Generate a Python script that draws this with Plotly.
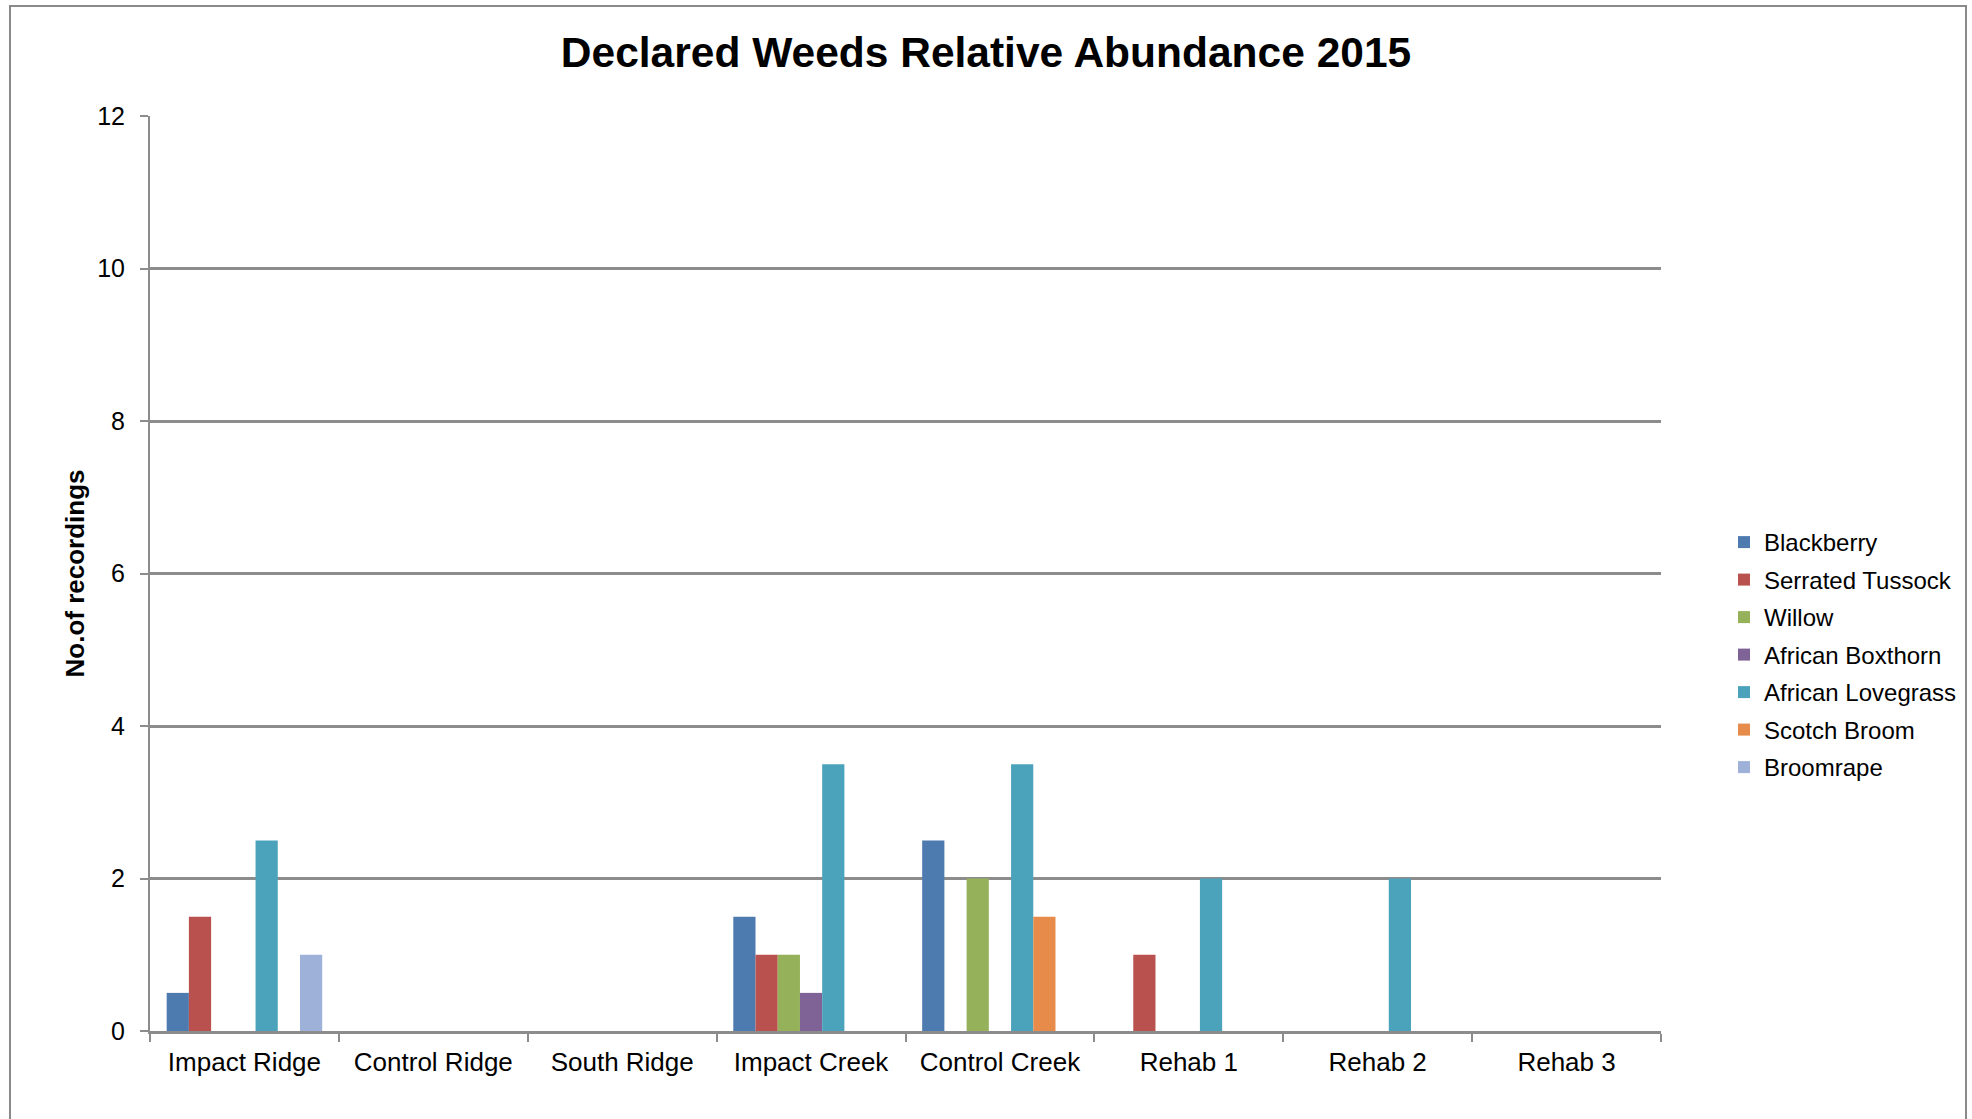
import plotly.graph_objects as go

# Survey sites along the category axis
sites = ["Impact Ridge", "Control Ridge", "South Ridge", "Impact Creek",
         "Control Creek", "Rehab 1", "Rehab 2", "Rehab 3"]

# Number of recordings per weed species at each site
blackberry = [0.5, 0, 0, 1.5, 2.5, 0, 0, 0]
serrated_tussock = [1.5, 0, 0, 1, 0, 1, 0, 0]
willow = [0, 0, 0, 1, 2, 0, 0, 0]
african_boxthorn = [0, 0, 0, 0.5, 0, 0, 0, 0]
african_lovegrass = [2.5, 0, 0, 3.5, 3.5, 2, 2, 0]
scotch_broom = [0, 0, 0, 0, 1.5, 0, 0, 0]
broomrape = [1, 0, 0, 0, 0, 0, 0, 0]

y_ticks = [0, 2, 4, 6, 8, 10, 12]

series = [
    ("Blackberry", blackberry, "#4E7BAF"),
    ("Serrated Tussock", serrated_tussock, "#B9514E"),
    ("Willow", willow, "#95B15A"),
    ("African Boxthorn", african_boxthorn, "#7F6397"),
    ("African Lovegrass", african_lovegrass, "#4BA3BB"),
    ("Scotch Broom", scotch_broom, "#E68B49"),
    ("Broomrape", broomrape, "#9EB2D9"),
]

FONT = "Liberation Sans, Arial, sans-serif"
GRID = "#8C8C8C"

fig = go.Figure()
for name, values, color in series:
    fig.add_trace(go.Bar(
        name=name, x=sites, y=values, legendgroup=name,
        marker=dict(color=color, line=dict(width=0)),
    ))

# plot area in pixels: x 150..1661, y 116..1031
L, R, T, B = 150, 311, 116, 88
W, H = 1972, 1119
pw, ph = W - L - R, H - T - B


def px_x(p):
    return (p - L) / pw


def px_y(p):
    return (H - B - p) / ph


fig.update_layout(
    width=W, height=H,
    margin=dict(l=L, r=R, t=T, b=B, autoexpand=False),
    paper_bgcolor="white", plot_bgcolor="white",
    font=dict(family=FONT, color="black"),
    barmode="group", bargap=1.5 / 8.5, bargroupgap=0,
    title=dict(text="<b>Declared Weeds Relative Abundance 2015</b>",
               x=0.5, xanchor="center", y=1 - 52 / H, yanchor="middle",
               font=dict(size=42.5, family=FONT, color="black")),
    xaxis=dict(
        type="category", tickson="boundaries", ticks="outside", ticklen=8,
        tickwidth=2, tickcolor=GRID, showline=True, linecolor=GRID,
        linewidth=2.5, showgrid=False, tickfont=dict(size=26),
        ticklabelstandoff=6, range=[-0.5, len(sites) - 0.5],
    ),
    yaxis=dict(
        range=[0, 12], tickvals=y_ticks, ticks="outside", ticklen=8,
        tickwidth=2, tickcolor=GRID, showline=True, linecolor=GRID,
        linewidth=2, showgrid=True, gridcolor=GRID, gridwidth=2.5,
        zeroline=False, tickfont=dict(size=25), ticklabelstandoff=10,
        title=dict(text="<b>No.of recordings</b>", font=dict(size=26),
                   standoff=5),
    ),
    legend=dict(
        x=px_x(1724), xanchor="left", y=px_y(520), yanchor="top",
        font=dict(size=24), tracegroupgap=3.3, bgcolor="rgba(0,0,0,0)",
    ),
    shapes=[dict(
        type="rect", xref="paper", yref="paper",
        x0=px_x(10), x1=px_x(1966), y0=px_y(1130), y1=px_y(6),
        line=dict(color="#8A8A8A", width=2), layer="below",
    )],
)

fig.write_html("out.html")
